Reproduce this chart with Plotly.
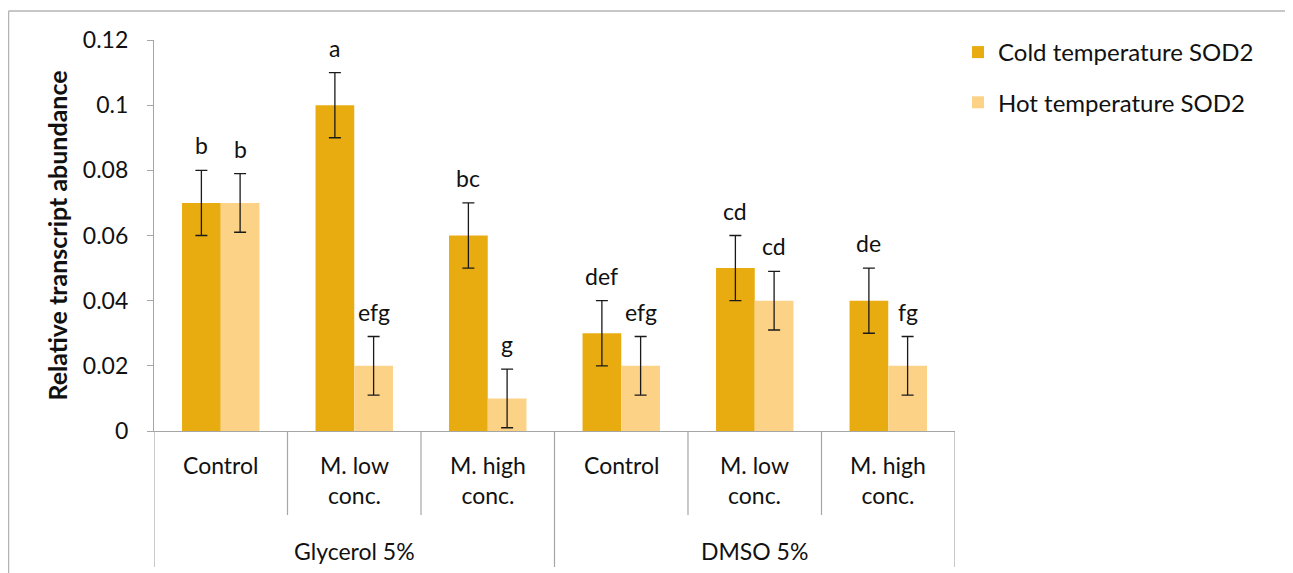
import plotly.graph_objects as go

groups = ["Glycerol 5%", "Glycerol 5%", "Glycerol 5%", "DMSO 5%", "DMSO 5%", "DMSO 5%"]
subcats = ["Control", "M. low<br>conc.", "M. high<br>conc.", "Control", "M. low<br>conc.", "M. high<br>conc."]
group_names = ["Glycerol 5%", "DMSO 5%"]

cold_vals = [0.07, 0.10, 0.06, 0.03, 0.05, 0.04]
cold_err = [0.01, 0.01, 0.01, 0.01, 0.01, 0.01]
cold_letters = ["b", "a", "bc", "def", "cd", "de"]

hot_vals = [0.07, 0.02, 0.01, 0.02, 0.04, 0.02]
hot_err = [0.009, 0.009, 0.009, 0.009, 0.009, 0.009]
hot_letters = ["b", "efg", "g", "efg", "cd", "fg"]

yticks = [0, 0.02, 0.04, 0.06, 0.08, 0.1, 0.12]
ytick_text = ["0", "0.02", "0.04", "0.06", "0.08", "0.1", "0.12"]

FONT = "Lato"
FS = 23
OFF = 8  # page body margin
W, H = 1293 - OFF, 573 - OFF
L, T = 154 - OFF, 40 - OFF
pw, ph = 801, 391
R, B = W - L - pw, H - T - ph

xs = list(range(len(subcats)))

fig = go.Figure()
fig.add_trace(go.Bar(
    x=xs, y=cold_vals, name="Cold temperature SOD2",
    marker=dict(color="#E9AC10", line=dict(width=0)),
    error_y=dict(type="data", array=cold_err, visible=True, color="#1a1a1a", thickness=1.3, width=6),
    legendgroup="c",
))
fig.add_trace(go.Bar(
    x=xs, y=hot_vals, name="Hot temperature SOD2",
    marker=dict(color="#FCD286", line=dict(width=0)),
    error_y=dict(type="data", array=hot_err, visible=True, color="#1a1a1a", thickness=1.3, width=6),
    legendgroup="h",
))

def py(pix):
    # screen pixel y -> paper y
    return (T + ph - (pix - OFF)) / ph

def px(pix):
    return ((pix - OFF) - L) / pw

bw = (1 - 0.42) / 2
annotations = []
for i in xs:
    annotations.append(dict(x=i - bw / 2, y=cold_vals[i] + cold_err[i], text=cold_letters[i],
                            xref="x", yref="y", showarrow=False, yanchor="bottom", yshift=9,
                            font=dict(family=FONT, size=FS, color="#111")))
    annotations.append(dict(x=i + bw / 2, y=hot_vals[i] + hot_err[i], text=hot_letters[i],
                            xref="x", yref="y", showarrow=False, yanchor="bottom", yshift=9,
                            font=dict(family=FONT, size=FS, color="#111")))

for i in xs:
    annotations.append(dict(x=i, y=py(449), text=subcats[i], xref="x", yref="paper",
                            showarrow=False, yanchor="top", align="center",
                            font=dict(family=FONT, size=FS, color="#111")))
n_per = len(subcats) // len(group_names)
for g, name in enumerate(group_names):
    annotations.append(dict(x=g * n_per + (n_per - 1) / 2, y=py(551), text=name, xref="x", yref="paper",
                            showarrow=False, yanchor="middle",
                            font=dict(family=FONT, size=FS, color="#111")))

shapes = []
grid_col = "#A6A6A6"
for k in range(len(subcats) + 1):
    outer = k % n_per == 0
    shapes.append(dict(type="line", xref="x", yref="paper", x0=k - 0.5, x1=k - 0.5,
                       y0=0, y1=py(567 if outer else 515), line=dict(color=grid_col, width=1.2)))
fx = px(8.5)
fy = py(11)
shapes.append(dict(type="line", xref="paper", yref="paper", x0=fx, x1=px(1293), y0=fy, y1=fy,
                   line=dict(color="#B4B4B4", width=1.5)))
shapes.append(dict(type="line", xref="paper", yref="paper", x0=fx, x1=fx, y0=fy, y1=py(573),
                   line=dict(color="#B4B4B4", width=1.5)))

fig.update_layout(
    width=W, height=H,
    margin=dict(l=L, r=R, t=T, b=B, autoexpand=False),
    paper_bgcolor="white", plot_bgcolor="white",
    barmode="group", bargap=0.42, bargroupgap=0,
    font=dict(family=FONT, size=FS, color="#111"),
    showlegend=True,
    legend=dict(x=px(958), y=py(30), xanchor="left", yanchor="top",
                font=dict(family=FONT, size=FS + 1, color="#111"),
                traceorder="grouped", tracegroupgap=16, bgcolor="rgba(0,0,0,0)",
                itemwidth=30),
    annotations=annotations,
    shapes=shapes,
    xaxis=dict(range=[-0.5, len(subcats) - 0.5], showticklabels=False, ticks="",
               showline=True, linecolor=grid_col, linewidth=1.2, showgrid=False, zeroline=False,
               fixedrange=True),
    yaxis=dict(range=[0, 0.12], tickvals=yticks, ticktext=ytick_text, ticks="outside",
               ticklen=6, tickcolor=grid_col, showline=True, linecolor=grid_col, linewidth=1.2,
               showgrid=False, zeroline=False, ticklabelstandoff=14,
               title=dict(text="<b>Relative transcript abundance</b>", standoff=8,
                          font=dict(family=FONT, size=FS + 2, color="#111")),
               tickfont=dict(family=FONT, size=FS, color="#111"), fixedrange=True),
)

fig.write_html("out.html", config={"displayModeBar": False})
